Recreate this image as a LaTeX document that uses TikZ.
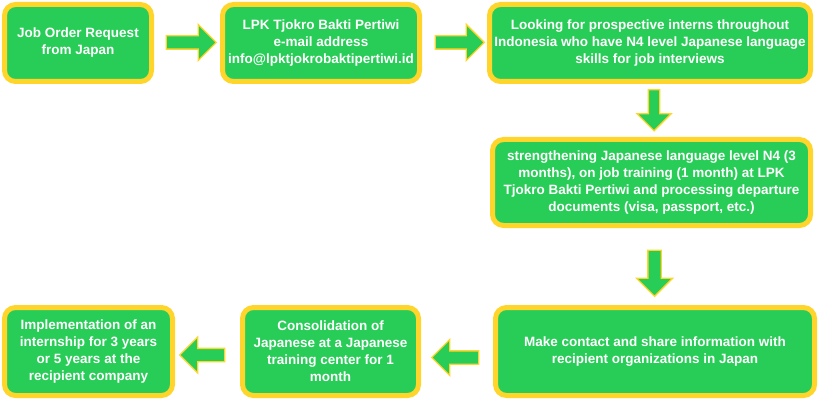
\documentclass[tikz,border=0pt]{standalone}
\usepackage{fontspec}
\setmainfont{Liberation Sans}
\usetikzlibrary{shapes.arrows}
\definecolor{boxgreen}{HTML}{28CD57}
\definecolor{boxyellow}{HTML}{FFD52B}
\begin{document}
\begin{tikzpicture}[x=1pt,y=-1pt,
  stepbox/.style={draw=boxyellow, line width=5pt, fill=boxgreen, rounded corners=11pt,
    inner sep=0pt, text=white, align=center, font=\fontsize{13.5}{17}\selectfont\bfseries,
    execute at begin node={\rule{0pt}{22pt}}},
  blockarrow/.style={single arrow, draw=boxyellow, line width=1.3pt, fill=boxgreen,
    inner sep=6pt, single arrow head extend=11.5pt, single arrow tip angle=90}]
\useasboundingbox (0,0) rectangle (819,401);
\node[stepbox, minimum width=147pt, minimum height=77pt] (b1) at (78,43)
  {Job Order Request\\from Japan};
\node[stepbox, minimum width=197pt, minimum height=77pt] (b2) at (321,43)
  {LPK Tjokro Bakti Pertiwi\\e-mail address\\info@lpktjokrobaktipertiwi.id};
\node[stepbox, minimum width=321pt, minimum height=77pt] (b3) at (650,43)
  {Looking for prospective interns throughout\\Indonesia who have N4 level Japanese language\\skills for job interviews};
\node[stepbox, minimum width=318pt, minimum height=86pt] (b4) at (651.5,182.5)
  {strengthening Japanese language level N4 (3\\months), on job training (1 month) at LPK\\Tjokro Bakti Pertiwi and processing departure\\documents (visa, passport, etc.)};
\node[stepbox, minimum width=319pt, minimum height=88pt] (b5) at (655,351.5)
  {Make contact and share information with\\recipient organizations in Japan};
\node[stepbox, minimum width=176pt, minimum height=88pt] (b6) at (330.5,351.5)
  {Consolidation of\\Japanese at a Japanese\\training center for 1\\month};
\node[stepbox, minimum width=168pt, minimum height=88pt] (b7) at (88.5,351.5)
  {Implementation of an\\internship for 3 years\\or 5 years at the\\recipient company};
\node[blockarrow, minimum height=50pt] (a1) at (188,42.5) {};
\node[blockarrow, minimum height=49pt] (a2) at (456.5,42.5) {};
\node[blockarrow, minimum height=41pt, shape border rotate=270, inner sep=5pt] (a3) at (654,107.5) {};
\node[blockarrow, minimum height=46pt, shape border rotate=270] (a4) at (654.5,270) {};
\node[blockarrow, minimum height=47pt, shape border rotate=180] (a5) at (458.5,357.5) {};
\node[blockarrow, minimum height=45pt, shape border rotate=180] (a6) at (205.5,355) {};
\end{tikzpicture}
\end{document}
